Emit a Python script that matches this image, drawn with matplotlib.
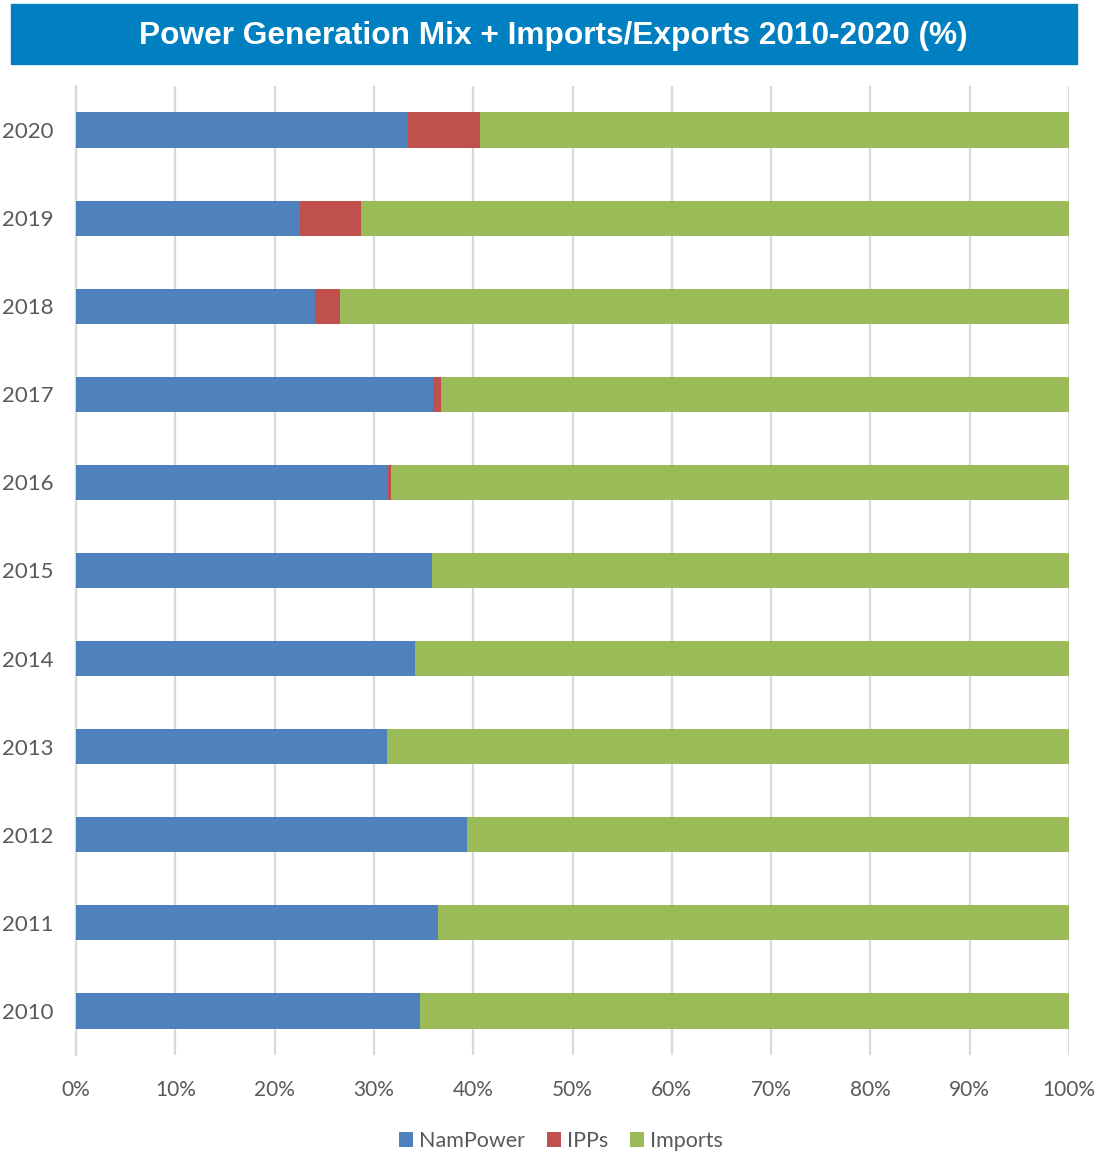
import matplotlib.pyplot as plt
import numpy as np
from matplotlib.patches import Rectangle
from matplotlib.ticker import PercentFormatter

# data (share of total, %)
years = ["2010", "2011", "2012", "2013", "2014", "2015", "2016", "2017", "2018", "2019", "2020"]
nampower = [34.6, 36.5, 39.4, 31.3, 34.1, 35.9, 31.4, 36.0, 24.1, 22.6, 33.4]
ipps = [0.0, 0.0, 0.0, 0.0, 0.0, 0.0, 0.3, 0.8, 2.5, 6.1, 7.3]
imports = [100 - a - b for a, b in zip(nampower, ipps)]

colors = {"NamPower": "#4F81BD", "IPPs": "#C0504D", "Imports": "#9BBB59"}
text_col = "#595959"

plt.rcParams['font.family'] = ['Lato', 'DejaVu Sans']

fig = plt.figure(figsize=(10.99, 11.52), dpi=100)
ax = fig.add_axes([76 / 1099, 1 - 1055 / 1152, (1069 - 76) / 1099, (1055 - 86) / 1152])

y = np.arange(len(years))
h = 0.4
ax.barh(y, nampower, height=h, color=colors["NamPower"], label="NamPower", zorder=3)
ax.barh(y, ipps, left=nampower, height=h, color=colors["IPPs"], label="IPPs", zorder=3)
left2 = np.array(nampower) + np.array(ipps)
ax.barh(y, imports, left=left2, height=h, color=colors["Imports"], label="Imports", zorder=3)

ax.set_xlim(0, 100)
ax.set_ylim(-0.5, len(years) - 0.5)
ax.set_xticks(np.arange(0, 101, 10))
ax.xaxis.set_major_formatter(PercentFormatter(decimals=0))
ax.set_yticks(y)
ax.set_yticklabels(years)
ax.tick_params(axis='both', length=0, labelsize=15, colors=text_col)
ax.tick_params(axis='y', labelsize=16, pad=16)
ax.tick_params(axis='x', pad=18)
ax.grid(axis='x', color="#D9D9D9", linewidth=1.6, zorder=0)
for s in ["top", "right", "bottom"]:
    ax.spines[s].set_visible(False)
ax.spines["left"].set_color("#D9D9D9")
ax.spines["left"].set_linewidth(1.6)

# title banner
fig.patches.append(Rectangle((11 / 1099, 1 - 64 / 1152), (1077 - 11) / 1099, 60 / 1152,
                             transform=fig.transFigure, color="#0080C0", zorder=0))
fig.text(553 / 1099, 1 - 36 / 1152, "Power Generation Mix + Imports/Exports 2010-2020 (%)",
         ha="center", va="center", color="white", fontsize=22.8, fontweight="bold",
         family=["Liberation Sans", "DejaVu Sans"])

leg = fig.legend(loc="center", bbox_to_anchor=(561 / 1099, 1 - 1141 / 1152), ncol=3,
                 frameon=False, fontsize=15.5, handlelength=0.65, handleheight=0.65,
                 handletextpad=0.3, columnspacing=1.0)
for t in leg.get_texts():
    t.set_color(text_col)

fig.savefig("out.png", dpi=100)
